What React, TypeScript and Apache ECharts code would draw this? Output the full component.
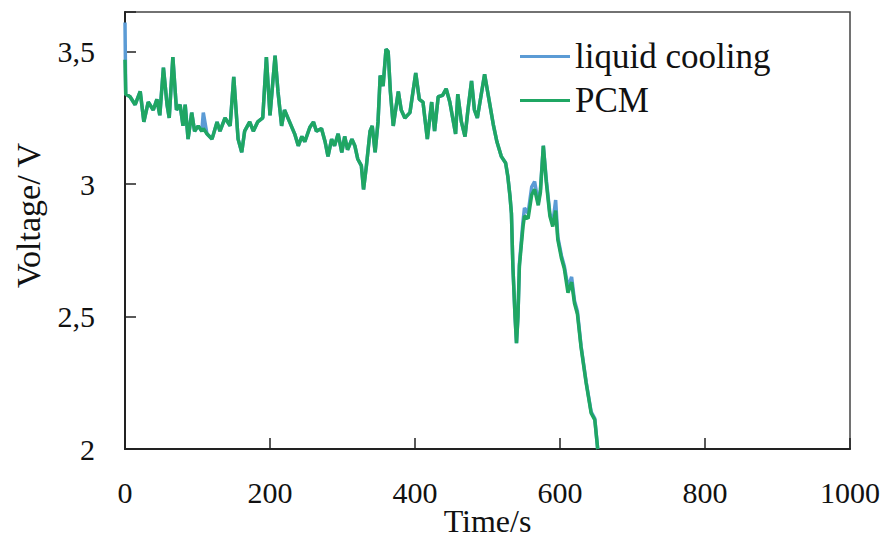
import React, { useEffect, useRef } from "react";
import * as echarts from "echarts";

const timeS = [
  0, 1, 7, 14, 21, 26, 32, 39, 44, 48, 53, 58, 61, 66, 71, 76, 80, 83, 87, 92, 96, 101, 106, 108, 113, 120,
  127, 131, 138, 145, 150, 156, 161, 165, 172, 177, 183, 190, 195, 200, 207, 211, 216, 220, 227, 234, 239,
  244, 248, 255, 260, 264, 271, 276, 280, 285, 289, 294, 299, 303, 307, 313, 317, 321, 326, 329, 333, 338,
  341, 345, 349, 352, 356, 360, 363, 366, 370, 377, 381, 386, 393, 401, 406, 411, 417, 423, 427, 432, 438,
  443, 448, 452, 456, 459, 464, 469, 473, 478, 482, 486, 489, 496, 502, 508, 513, 519, 525, 528, 531, 533,
  535, 538, 540, 542, 544, 549, 551, 556, 561, 565, 570, 573, 577, 581, 586, 590, 594, 597, 602, 606, 611,
  616, 620, 624, 629, 636, 643, 648, 652,
];

const pcmV = [
  3.47, 3.34, 3.33, 3.3, 3.35, 3.235, 3.31, 3.28, 3.32, 3.26, 3.44, 3.3, 3.25, 3.48, 3.28, 3.3, 3.22, 3.3, 3.17,
  3.27, 3.2, 3.22, 3.2, 3.21, 3.19, 3.17, 3.235, 3.2, 3.25, 3.22, 3.405, 3.17, 3.12, 3.2, 3.235, 3.2, 3.235,
  3.25, 3.48, 3.26, 3.485, 3.35, 3.22, 3.28, 3.235, 3.19, 3.145, 3.18, 3.16, 3.215, 3.235, 3.2, 3.21, 3.16,
  3.105, 3.17, 3.145, 3.19, 3.12, 3.18, 3.13, 3.17, 3.145, 3.095, 3.07, 2.98, 3.07, 3.2, 3.22, 3.12, 3.235,
  3.41, 3.37, 3.51, 3.5, 3.35, 3.22, 3.35, 3.28, 3.25, 3.27, 3.42, 3.32, 3.31, 3.17, 3.31, 3.2, 3.33, 3.335,
  3.36, 3.31, 3.25, 3.19, 3.34, 3.235, 3.18, 3.28, 3.39, 3.28, 3.25, 3.3, 3.415, 3.32, 3.225, 3.16, 3.105,
  3.08, 3.03, 2.955, 2.89, 2.69, 2.5, 2.4, 2.5, 2.69, 2.84, 2.88, 2.87, 2.96, 2.98, 2.92, 2.97, 3.145, 3.01,
  2.88, 2.84, 2.9, 2.79, 2.72, 2.68, 2.59, 2.63, 2.55, 2.51, 2.385, 2.25, 2.135, 2.11, 2.0,
];

const liquidV = [
  3.61, 3.34, 3.33, 3.3, 3.35, 3.235, 3.31, 3.28, 3.32, 3.26, 3.44, 3.3, 3.25, 3.48, 3.28, 3.3, 3.22, 3.3, 3.17,
  3.27, 3.2, 3.22, 3.2, 3.27, 3.19, 3.17, 3.235, 3.2, 3.25, 3.22, 3.405, 3.17, 3.12, 3.2, 3.235, 3.2, 3.235,
  3.25, 3.48, 3.26, 3.485, 3.35, 3.22, 3.28, 3.235, 3.19, 3.145, 3.18, 3.16, 3.215, 3.235, 3.2, 3.21, 3.16,
  3.105, 3.17, 3.145, 3.19, 3.12, 3.18, 3.13, 3.17, 3.145, 3.095, 3.07, 2.98, 3.07, 3.2, 3.22, 3.12, 3.235,
  3.41, 3.37, 3.51, 3.5, 3.35, 3.22, 3.35, 3.28, 3.25, 3.27, 3.42, 3.32, 3.31, 3.17, 3.31, 3.2, 3.33, 3.335,
  3.36, 3.31, 3.25, 3.19, 3.34, 3.235, 3.18, 3.28, 3.39, 3.28, 3.25, 3.3, 3.415, 3.32, 3.225, 3.16, 3.105,
  3.08, 3.03, 2.955, 2.89, 2.69, 2.5, 2.4, 2.5, 2.7, 2.86, 2.91, 2.89, 2.99, 3.01, 2.93, 2.98, 3.145, 3.02,
  2.89, 2.85, 2.94, 2.8, 2.73, 2.69, 2.61, 2.65, 2.56, 2.52, 2.39, 2.255, 2.14, 2.115, 2.0,
];

const seriesNames = ["liquid cooling", "PCM"];
const xTicks = { min: 0, max: 1000, interval: 200 };
const yTicks = { min: 2, max: 3.65, interval: 0.5 };

const FONT = "'Liberation Serif', 'Times New Roman', serif";

export default function App() {
  const ref = useRef<HTMLDivElement>(null);
  useEffect(() => {
    if (!ref.current) return;
    const chart = echarts.init(ref.current, undefined, { renderer: "svg" });
    const pair = (vals: number[]) => timeS.map((t, i) => [t, vals[i]]);
    chart.setOption({
      animation: false,
      backgroundColor: "#ffffff",
      grid: {
        left: 125,
        right: 35,
        top: 12,
        bottom: 93,
        show: true,
        borderColor: "#444",
        borderWidth: 1.5,
        containLabel: false,
        outerBoundsMode: "none",
      },
      legend: {
        orient: "vertical",
        left: 520,
        top: 39,
        padding: 0,
        icon: "rect",
        itemWidth: 50,
        itemHeight: 3,
        itemGap: 9,
        data: seriesNames,
        textStyle: { fontFamily: FONT, fontSize: 35, color: "#111" },
      },
      xAxis: {
        type: "value",
        min: xTicks.min,
        max: xTicks.max,
        interval: xTicks.interval,
        name: "Time/s",
        nameLocation: "middle",
        nameGap: 56,
        nameMoveOverlap: false,
        nameTextStyle: { fontFamily: FONT, fontSize: 32, color: "#111" },
        axisLine: { show: true, lineStyle: { color: "#222", width: 2 } },
        axisTick: { show: true, inside: true, length: 11, lineStyle: { color: "#222", width: 1.5 } },
        axisLabel: {
          fontFamily: FONT,
          fontSize: 30,
          color: "#111",
          margin: 28,
          formatter: (v: number) => String(Math.round(v)),
        },
        splitLine: { show: false },
      },
      yAxis: {
        type: "value",
        min: yTicks.min,
        max: yTicks.max,
        interval: yTicks.interval,
        name: "Voltage/ V",
        nameLocation: "middle",
        nameRotate: 90,
        nameGap: 80,
        nameMoveOverlap: false,
        nameTextStyle: { fontFamily: FONT, fontSize: 34, color: "#111", padding: [0, 0, 0, 30] },
        axisLine: { show: true, lineStyle: { color: "#222", width: 2 } },
        axisTick: { show: true, inside: true, length: 11, lineStyle: { color: "#222", width: 1.5 } },
        axisLabel: {
          fontFamily: FONT,
          fontSize: 30,
          color: "#111",
          margin: 30,
          formatter: (v: number) => {
            const r = Math.round(v * 2) / 2;
            if (Math.abs(v - r) > 1e-6) return "";
            return String(r).replace(".", ",");
          },
        },
        splitLine: { show: false },
      },
      series: [
        {
          name: seriesNames[0],
          type: "line",
          data: pair(liquidV),
          showSymbol: false,
          symbol: "none",
          lineStyle: { color: "#5b9bd5", width: 3.5 },
          itemStyle: { color: "#5b9bd5" },
          z: 2,
        },
        {
          name: seriesNames[1],
          type: "line",
          data: pair(pcmV),
          showSymbol: false,
          symbol: "none",
          lineStyle: { color: "#1fa663", width: 3.5 },
          itemStyle: { color: "#1fa663" },
          z: 3,
        },
      ],
    });
    return () => chart.dispose();
  }, []);
  return <div ref={ref} style={{ width: 885, height: 542, position: "absolute", left: 0, top: 0 }} />;
}
